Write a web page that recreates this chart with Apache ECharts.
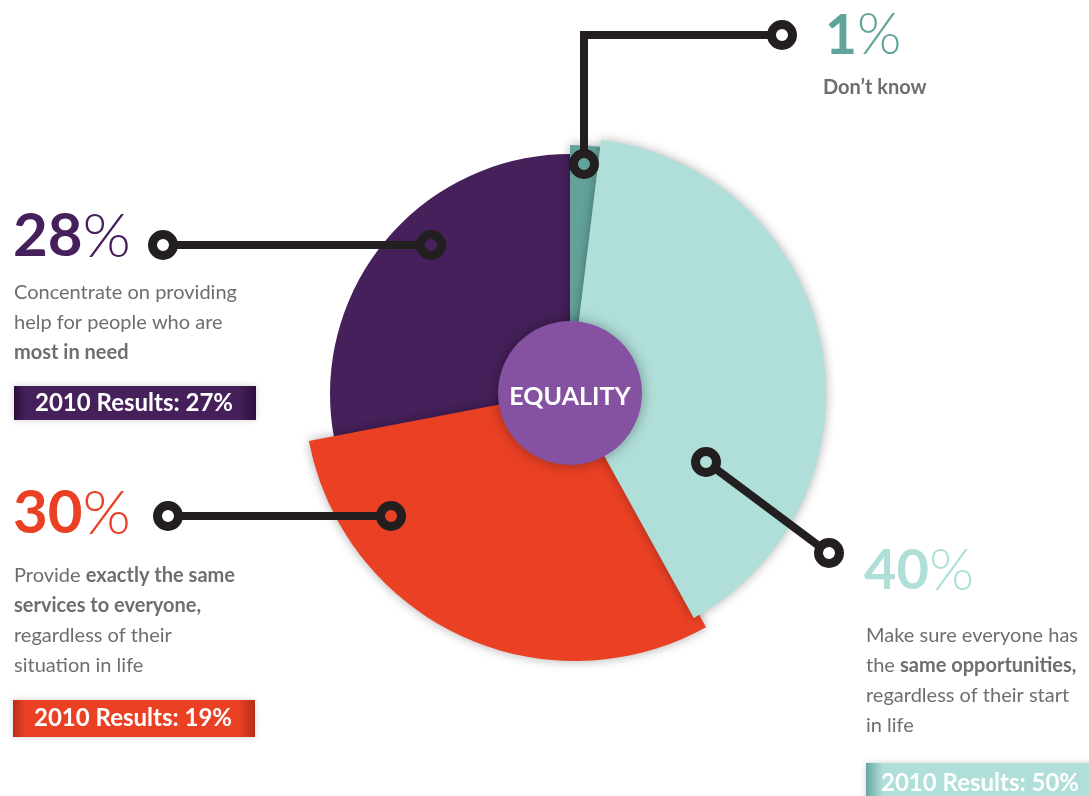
<!DOCTYPE html>
<html>
<head>
<meta charset="utf-8">
<title>Equality</title>
<script src="https://cdn.jsdelivr.net/npm/echarts@6/dist/echarts.min.js"></script>
<style>
  html, body { margin: 0; padding: 0; background: #fff; }
  #main { width: 1089px; height: 796px; }
</style>
</head>
<body>
<div id="main"></div>
<script>
// answers, clockwise from 12 o'clock
var categories = ['Don’t know', 'Same opportunities', 'Same services', 'Most in need'];
var shares = [1, 40, 30, 28];
var results2010 = [null, 50, 19, 27];

var colors = ['#62a29a', '#b0dfda', '#ea4125', '#45205a'];
var FONT = 'Lato';
var INK = '#231f20';
var GREY = '#6d6e71';
var CX = 570, CY = 394;

var myChart = echarts.init(document.getElementById('main'));

// one pie per slice so every slice can have its own radius
function slice(idx, r, shadow, center) {
  return {
    type: 'pie',
    center: center || [CX, CY],
    radius: [0, r],
    startAngle: 90,
    minAngle: 7,
    silent: true,
    animation: false,
    label: { show: false },
    labelLine: { show: false },
    itemStyle: { borderWidth: 0 },
    data: categories.map(function (name, i) {
      var st = { color: 'rgba(0,0,0,0)', borderWidth: 0 };
      if (i === idx) {
        st.color = colors[i];
        if (shadow) {
          st.shadowBlur = 11;
          st.shadowColor = 'rgba(0,0,0,0.32)';
        }
      }
      return { name: name, value: shares[i], itemStyle: st };
    })
  };
}

function ring(x, y) {
  return { type: 'circle', z: 110, shape: { cx: x, cy: y, r: 10.5 },
    style: { fill: 'none', stroke: INK, lineWidth: 9 } };
}
function lead(points) {
  return { type: 'polyline', z: 105, shape: { points: points },
    style: { fill: 'none', stroke: INK, lineWidth: 8, lineJoin: 'miter' } };
}
function bigPct(x, y, val, color, size) {
  return { type: 'text', z: 110, x: x, y: y,
    style: {
      text: '{b|' + val + '}{l|%}',
      verticalAlign: 'middle',
      rich: {
        b: { fontFamily: FONT, fontSize: size, fontWeight: 'bold', fill: color },
        l: { fontFamily: FONT, fontSize: size + 2, fontWeight: 300, fill: color }
      }
    } };
}
function desc(x, y, lines) {
  return { type: 'text', z: 110, x: x, y: y,
    style: {
      text: lines.join('\n'),
      fontFamily: FONT, fontSize: 20, fill: GREY, lineHeight: 30,
      verticalAlign: 'top',
      rich: { b: { fontFamily: FONT, fontSize: 20, fontWeight: 'bold', fill: GREY, lineHeight: 30 } }
    } };
}
function box(x, y, w, h, stops, label, tx, align) {
  return [
    { type: 'rect', z: 100, shape: { x: x, y: y, width: w, height: h },
      style: { fill: new echarts.graphic.LinearGradient(0, 0, 1, 0, stops),
        shadowBlur: 6, shadowColor: 'rgba(0,0,0,0.18)' } },
    { type: 'text', z: 110, x: tx, y: y + h / 2,
      style: { text: label, fontFamily: FONT, fontSize: 24, fontWeight: 'bold',
        fill: '#fff', align: align, verticalAlign: 'middle' } }
  ];
}

var graphics = [
  // centre disc
  { type: 'circle', z: 100, shape: { cx: CX, cy: CY - 1, r: 72 },
    style: { fill: '#8552a1', shadowBlur: 14, shadowColor: 'rgba(0,0,0,0.35)' } },
  { type: 'text', z: 110, x: CX, y: CY + 3,
    style: { text: 'EQUALITY', fontFamily: FONT, fontSize: 25, fontWeight: 'bold',
      fill: '#fff', align: 'center', verticalAlign: 'middle' } },

  // leader lines
  lead([[584, 152], [584, 35], [770, 35]]), ring(584, 164), ring(782, 35),
  lead([[175, 245], [419, 245]]), ring(163, 245), ring(431, 245),
  lead([[180, 516], [379, 516]]), ring(168, 516), ring(391, 516),
  lead([[716, 469], [819, 546]]), ring(706, 462), ring(829, 553),

  // Don't know
  bigPct(825, 36, shares[0], '#5fa39a', 55),
  { type: 'text', z: 110, x: 823, y: 88,
    style: { text: categories[0], fontFamily: FONT, fontSize: 20, fontWeight: 'bold',
      fill: GREY, verticalAlign: 'middle' } },

  // most in need
  bigPct(13, 237, shares[3], '#45205a', 60),
  desc(14, 278, ['Concentrate on providing', 'help for people who are', '{b|most in need}']),

  // same services
  bigPct(13, 514, shares[2], '#ea4125', 60),
  desc(14, 561, ['Provide {b|exactly the same}', '{b|services to everyone,}', 'regardless of their', 'situation in life']),

  // same opportunities
  bigPct(864, 571, shares[1], '#b0dfda', 56),
  desc(866, 621, ['Make sure everyone has', 'the {b|same opportunities,}', 'regardless of their start', 'in life'])
];

graphics = graphics
  .concat(box(14, 386, 242, 34, [
    { offset: 0, color: '#2c0f3d' }, { offset: 0.05, color: '#45205a' },
    { offset: 0.93, color: '#45205a' }, { offset: 1, color: '#2c0f3d' }],
    '2010 Results: ' + results2010[3] + '%', 134, 'center'))
  .concat(box(13, 700, 242, 37, [
    { offset: 0, color: '#b82d18' }, { offset: 0.05, color: '#ea4125' },
    { offset: 0.93, color: '#ea4125' }, { offset: 1, color: '#b82d18' }],
    '2010 Results: ' + results2010[2] + '%', 133, 'center'))
  .concat(box(866, 763, 240, 40, [
    { offset: 0, color: '#66a6a3' }, { offset: 0.07, color: '#b0dfda' },
    { offset: 1, color: '#b0dfda' }],
    '2010 Results: ' + results2010[1] + '%', 881, 'left'));

myChart.setOption({
  animation: false,
  series: [
    slice(3, 240, false),
    slice(2, 271, true, [575, 390]),
    slice(0, 249, true),
    slice(1, 256, true)
  ],
  graphic: graphics
});
</script>
</body>
</html>
